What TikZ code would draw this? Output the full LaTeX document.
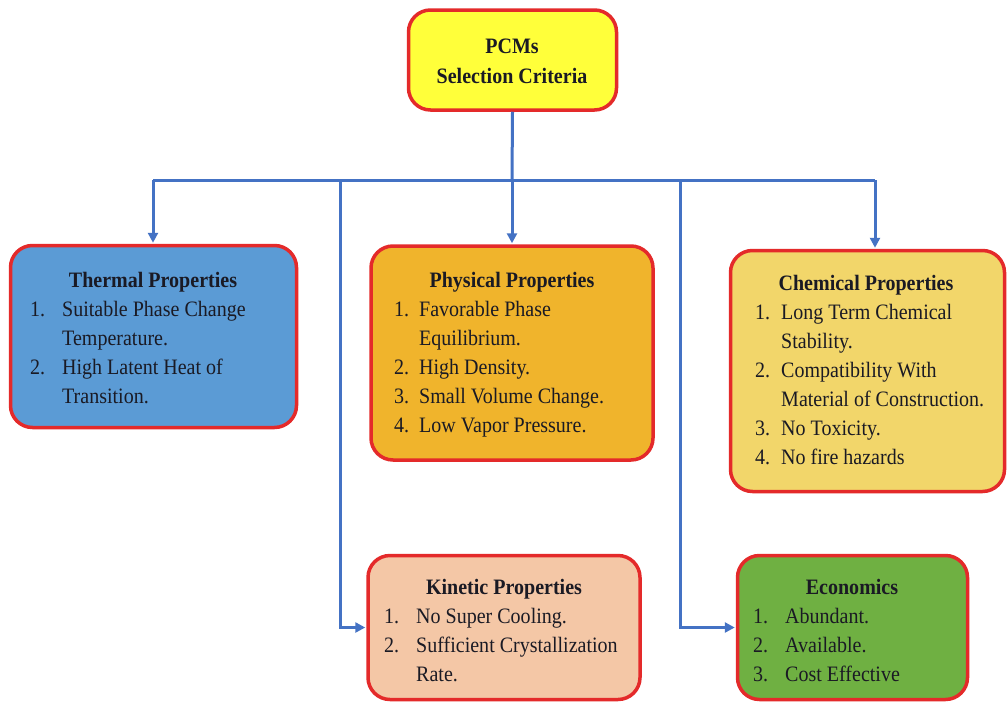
\documentclass[tikz,border=0pt]{standalone}
\usepackage{fontspec}
\setmainfont{Liberation Serif}[FakeStretch=0.91]
\usetikzlibrary{arrows.meta}
\definecolor{bordred}{HTML}{E42A2A}
\definecolor{linkblue}{HTML}{4472C4}
\definecolor{rootyel}{HTML}{FFFF3A}
\definecolor{thermblue}{HTML}{5B9BD5}
\definecolor{physorange}{HTML}{F0B42C}
\definecolor{chemyel}{HTML}{F2D66A}
\definecolor{kinpeach}{HTML}{F4C7A6}
\definecolor{econgreen}{HTML}{6FB042}
\definecolor{txt}{HTML}{1A1A24}
\tikzset{
  box/.style={draw=bordred, line width=3.5pt, rounded corners=22pt, inner sep=0pt},
  title/.style={anchor=base, font=\fontsize{22}{29}\selectfont\bfseries, text=txt, inner sep=0pt},
  items/.style={anchor=base west, font=\fontsize{22}{29}\selectfont, text=txt, inner sep=0pt},
  line/.style={draw=linkblue, line width=3pt},
  arr/.style={draw=linkblue, line width=3pt, -{Triangle[length=10pt,width=10pt]}, shorten >=1pt},
}
\begin{document}
\begin{tikzpicture}[x=1pt, y=-1pt]
\useasboundingbox[fill=white] (0,0) rectangle (1008,704);
% connectors
\coordinate (bus) at (512,180);
\coordinate (busL) at (153,180);
\coordinate (busR) at (875,180);
\coordinate (busK) at (340,180);
\coordinate (busE) at (680,180);
% boxes
\node[box, fill=rootyel, minimum width=208pt, minimum height=100pt] (root) at (512.5,60) {};
\node[box, fill=thermblue, minimum width=286pt, minimum height=182pt] (therm) at (153.5,336.5) {};
\node[box, fill=physorange, minimum width=282pt, minimum height=214pt] (phys) at (512,353) {};
\node[box, fill=chemyel, minimum width=274pt, minimum height=241pt] (chem) at (867.5,371) {};
\node[box, fill=kinpeach, minimum width=272pt, minimum height=144pt] (kin) at (504,627.5) {};
\node[box, fill=econgreen, minimum width=230pt, minimum height=144pt] (econ) at (852.5,627.5) {};
% connectors
\draw[line] (root.south) -- (bus);
\draw[line] (busL) -- (busR);
\draw[arr] (busL) -- (busL |- therm.north);
\draw[arr] (bus) -- (bus |- phys.north);
\draw[arr] (busR) -- (busR |- chem.north);
\draw[arr] (busK) |- (kin.west);
\draw[arr] (busE) |- (econ.west);
% texts
\node[title] (roott1) at (512,53) {PCMs};
\node[title] (roott2) at (512,83) {Selection Criteria};

\node[title] (thermt) at (153,287) {Thermal Properties};
\node[items] (thermi) at (30,316) {\begin{tabular}[t]{@{}p{32pt}@{}l@{}}
1. & Suitable Phase Change\\ & Temperature.\\ 2. & High Latent Heat of\\ & Transition.\end{tabular}};

\node[title] (physt) at (512,287) {Physical Properties};
\node[items] (physi) at (394,316) {\begin{tabular}[t]{@{}p{25pt}@{}l@{}}
1. & Favorable Phase\\ & Equilibrium.\\ 2. & High Density.\\ 3. & Small Volume Change.\\ 4. & Low Vapor Pressure.\end{tabular}};

\node[title] (chemt) at (866,290) {Chemical Properties};
\node[items] (chemi) at (755,319) {\begin{tabular}[t]{@{}p{26pt}@{}l@{}}
1. & Long Term Chemical\\ & Stability.\\ 2. & Compatibility With\\ & Material of Construction.\\ 3. & No Toxicity.\\ 4. & No fire hazards\end{tabular}};

\node[title] (kint) at (504,594) {Kinetic Properties};
\node[items] (kini) at (384,623) {\begin{tabular}[t]{@{}p{32pt}@{}l@{}}
1. & No Super Cooling.\\ 2. & Sufficient Crystallization\\ & Rate.\end{tabular}};

\node[title] (econt) at (852,594) {Economics};
\node[items] (econi) at (753,623) {\begin{tabular}[t]{@{}p{32pt}@{}l@{}}
1. & Abundant.\\ 2. & Available.\\ 3. & Cost Effective\end{tabular}};
\end{tikzpicture}
\end{document}
